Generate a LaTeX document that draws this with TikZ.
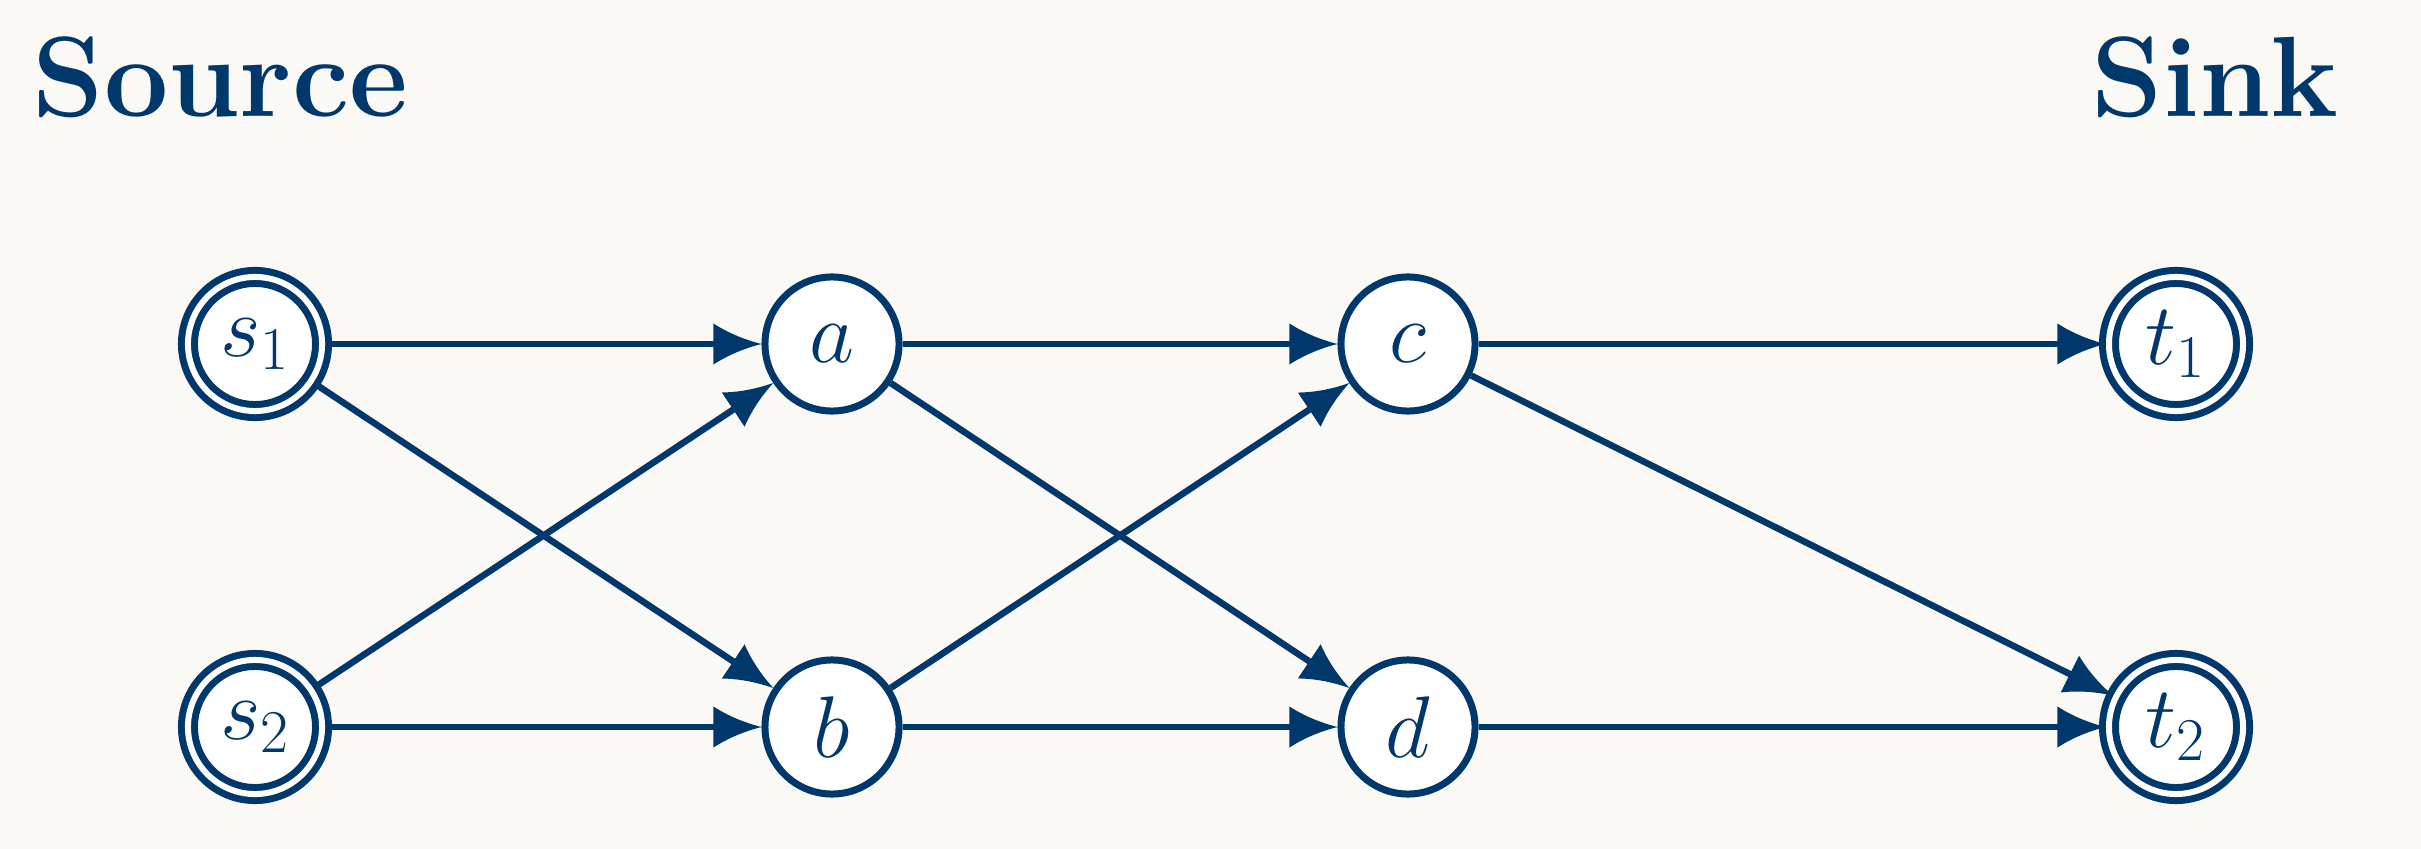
\documentclass[tikz,border=0pt]{standalone}
\usetikzlibrary{arrows.meta}
\definecolor{navy}{RGB}{0,56,108}
\definecolor{bg}{RGB}{250,249,245}
\pgfdeclarearrow{
  name = Flare,
  parameters = {\the\pgfarrowlength,\the\pgfarrowwidth},
  setup code = {
    \pgfarrowssettipend{0pt}
    \pgfarrowssetlineend{-.5\pgfarrowlength}
    \pgfarrowssetbackend{-\pgfarrowlength}
    \pgfarrowssavethe\pgfarrowlength
    \pgfarrowssavethe\pgfarrowwidth
  },
  drawing code = {
    \pgfpathmoveto{\pgfpointorigin}
    \pgfpathcurveto{\pgfpoint{-.33\pgfarrowlength}{.1\pgfarrowwidth}}{\pgfpoint{-.67\pgfarrowlength}{.25\pgfarrowwidth}}{\pgfpoint{-\pgfarrowlength}{.5\pgfarrowwidth}}
    \pgfpathlineto{\pgfpoint{-\pgfarrowlength}{-.5\pgfarrowwidth}}
    \pgfpathcurveto{\pgfpoint{-.67\pgfarrowlength}{-.25\pgfarrowwidth}}{\pgfpoint{-.33\pgfarrowlength}{-.1\pgfarrowwidth}}{\pgfpointorigin}
    \pgfpathclose
    \pgfusepathqfill
  },
  defaults = {length=0.48cm, width=0.39cm}
}
\tikzset{
  vertex/.style={circle, draw=navy, fill=white, line width=0.07cm, minimum size=1.34cm, inner sep=0pt, text=navy, font=\fontsize{23}{28}\selectfont},
  terminal/.style={vertex, double=white, double distance=0.06cm},
  edge/.style={draw=navy, line width=0.065cm, -{Flare[length=0.48cm,width=0.41cm]}},
  heading/.style={text=navy, inner sep=0pt, font=\fontsize{32.5}{38}\selectfont\bfseries}
}
\begin{document}
\begin{tikzpicture}[x=0.01cm, y=-0.01cm]
\fill[bg] (0,0) rectangle (2421,849);
\useasboundingbox (0,0) rectangle (2421,849);
\node[heading, anchor=base west] (src) at (32,117) {Source};
\node[heading, anchor=base east] (snk) at (2339,117) {Sink};
\node[terminal] (s1) at (255,344) {$s_1$};
\node[terminal] (s2) at (255,727) {$s_2$};
\node[vertex] (a) at (832,344) {$a$};
\node[vertex] (b) at (832,727) {$b$};
\node[vertex] (c) at (1408,344) {$c$};
\node[vertex] (d) at (1408,727) {$d$};
\node[terminal] (t1) at (2176,344) {$t_1$};
\node[terminal] (t2) at (2176,727) {$t_2$};
\draw[edge] (s1) -- (a);
\draw[edge] (s1) -- (b);
\draw[edge] (s2) -- (a);
\draw[edge] (s2) -- (b);
\draw[edge] (a) -- (c);
\draw[edge] (a) -- (d);
\draw[edge] (b) -- (c);
\draw[edge] (b) -- (d);
\draw[edge] (c) -- (t1);
\draw[edge] (c) -- (t2);
\draw[edge] (d) -- (t2);
\end{tikzpicture}
\end{document}
